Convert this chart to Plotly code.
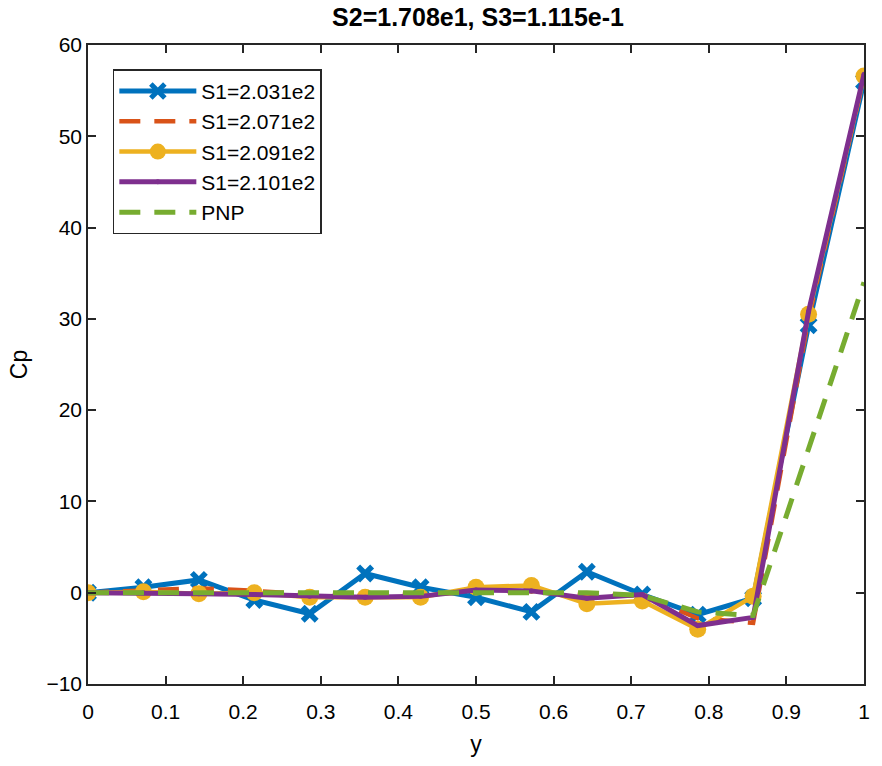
import plotly.graph_objects as go

x = [i / 14 for i in range(15)]

s1_2031 = [0.0, 0.6, 1.4, -0.8, -2.3, 2.1, 0.6, -0.5, -2.1, 2.3, -0.2, -2.4, -0.6, 29.3, 56.0]
s1_2071 = [0.0, 0.2, 0.5, 0.2, -0.2, -0.3, -0.2, 0.1, 0.1, -0.3, -0.3, -2.8, -3.3, 30.0, 56.5]
s1_2091 = [0.0, 0.1, -0.1, 0.0, -0.5, -0.5, -0.5, 0.6, 0.8, -1.2, -0.9, -4.0, -0.4, 30.5, 56.6]
s1_2101 = [0.0, 0.0, -0.1, -0.2, -0.4, -0.5, -0.4, 0.3, 0.2, -0.6, -0.2, -3.6, -2.7, 30.8, 56.8]
pnp = [0.0, 0.0, 0.0, 0.0, 0.0, 0.0, 0.0, 0.1, 0.0, 0.0, -0.3, -2.1, -2.5, 15.8, 34.0]

names = ["S1=2.031e2", "S1=2.071e2", "S1=2.091e2", "S1=2.101e2", "PNP"]
title = "S2=1.708e1, S3=1.115e-1"

FONT = "Liberation Sans, Arial, Helvetica, sans-serif"
fig = go.Figure()
fig.add_trace(go.Scatter(x=x, y=s1_2031, name=names[0], mode="lines+markers",
                         line=dict(color="#0072BD", width=5),
                         marker=dict(symbol="x-thin", size=14, line=dict(width=5.5, color="#0072BD"), color="#0072BD")))
fig.add_trace(go.Scatter(x=x, y=s1_2071, name=names[1], mode="lines",
                         line=dict(color="#D95319", width=4.5, dash="21px,14px")))
fig.add_trace(go.Scatter(x=x, y=s1_2091, name=names[2], mode="lines+markers",
                         line=dict(color="#EDB120", width=4.5),
                         marker=dict(symbol="circle", size=17, color="#EDB120")))
fig.add_trace(go.Scatter(x=x, y=s1_2101, name=names[3], mode="lines+markers",
                         line=dict(color="#7E2F8E", width=5),
                         marker=dict(symbol="circle", size=5, color="#7E2F8E")))
fig.add_trace(go.Scatter(x=x, y=pnp, name=names[4], mode="lines",
                         line=dict(color="#77AC30", width=5, dash="21px,14px")))

axis_common = dict(showline=True, linecolor="#262626", linewidth=1.5, mirror="ticks",
                   ticks="inside", ticklen=8, tickcolor="#262626", tickwidth=1.5,
                   showgrid=False, zeroline=False,
                   tickfont=dict(family=FONT, size=21, color="#000000"))

fig.update_layout(
    width=882, height=766,
    margin=dict(l=88, r=14, t=45, b=82),
    paper_bgcolor="white", plot_bgcolor="white",
    title=dict(text="<b>" + title + "</b>", x=0.542, xanchor="center", y=0.977, yanchor="middle",
               font=dict(family=FONT, size=25, color="#000000")),
    xaxis=dict(range=[0, 1], dtick=0.1, tick0=0, ticklabelstandoff=8,
               title=dict(text="y", font=dict(family=FONT, size=23, color="#000000"), standoff=14),
               **axis_common),
    yaxis=dict(range=[-10, 60], dtick=10, tick0=0,
               title=dict(text="Cp", font=dict(family=FONT, size=23, color="#000000"), standoff=12),
               **axis_common),
    legend=dict(x=0.032, y=0.962, xanchor="left", yanchor="top",
                bgcolor="white", bordercolor="#262626", borderwidth=1.5,
                font=dict(family=FONT, size=21, color="#000000"),
                itemwidth=77, tracegroupgap=0, traceorder="normal"),
    showlegend=True,
)

fig.write_html("out.html")
